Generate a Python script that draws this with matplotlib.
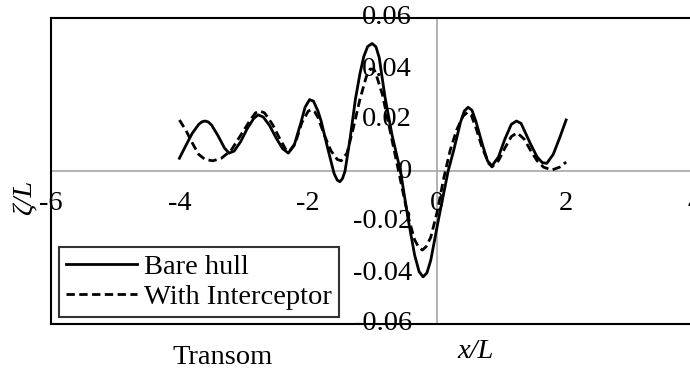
import matplotlib
matplotlib.use("Agg")
import matplotlib.pyplot as plt

plt.rcParams["font.family"] = ["Liberation Serif", "DejaVu Serif"]

# Wave profile along the hull, x/L vs zeta/L
x_bare = [-4.0, -3.9, -3.8, -3.7, -3.65, -3.6, -3.55, -3.5, -3.4, -3.3, -3.23, -3.15,
          -3.05, -2.95, -2.85, -2.78, -2.7, -2.6, -2.5, -2.4, -2.31, -2.22,
          -2.12, -2.05, -1.98, -1.92, -1.85, -1.8, -1.7, -1.6, -1.55, -1.51, -1.47, -1.43, -1.35,
          -1.27, -1.2, -1.14, -1.08, -1.01, -0.95, -0.9, -0.81, -0.7, -0.57, -0.45, -0.35,
          -0.28, -0.22, -0.16, -0.1, 0.02, 0.17, 0.26, 0.36, 0.42, 0.48, 0.54, 0.6, 0.7, 0.78,
          0.85, 0.95, 1.05, 1.15, 1.23, 1.3, 1.35, 1.45, 1.55, 1.63, 1.7,
          1.8, 1.9, 2.0]
z_bare = [0.005, 0.010, 0.0148, 0.0183, 0.0193, 0.0196, 0.0192, 0.018, 0.0138, 0.009, 0.007, 0.0078,
          0.0115, 0.0165, 0.0205, 0.022, 0.0212, 0.0178, 0.013, 0.0088, 0.007, 0.010,
          0.0185, 0.025, 0.028, 0.0274, 0.0235, 0.0195, 0.009, -0.001, -0.0036, -0.0042, -0.003, 0.0, 0.013,
          0.028, 0.038, 0.0448, 0.0488, 0.050, 0.0487, 0.0445, 0.029, 0.014, 0.0, -0.019, -0.033,
          -0.0395, -0.0415, -0.0400, -0.035, -0.019, 0.0, 0.0085, 0.019, 0.0235, 0.025, 0.0238, 0.0195, 0.0105, 0.004,
          0.002, 0.0055, 0.0125, 0.0183, 0.0196, 0.0187, 0.016, 0.0105, 0.0055, 0.0033, 0.003,
          0.0065, 0.013, 0.020]

x_int = [-4.0, -3.9, -3.8, -3.7, -3.6, -3.48, -3.35, -3.2, -3.1, -3.0,
         -2.9, -2.82, -2.75, -2.68, -2.6, -2.55, -2.45, -2.35, -2.3, -2.2, -2.1, -2.0,
         -1.95, -1.9, -1.85, -1.75, -1.65, -1.55, -1.49, -1.4, -1.3, -1.2, -1.1,
         -1.04, -0.98, -0.95, -0.85, -0.75, -0.65, -0.55, -0.45, -0.35, -0.29, -0.23, -0.17, -0.1,
         0.0, 0.1, 0.2, 0.3, 0.4, 0.47, 0.53, 0.6, 0.7, 0.8, 0.85,
         0.95, 1.05, 1.15, 1.24, 1.35, 1.45, 1.55, 1.65, 1.78, 1.9,
         2.0]
z_int = [0.020, 0.016, 0.011, 0.0065, 0.0045, 0.004, 0.005, 0.008, 0.012, 0.016,
         0.020, 0.0228, 0.0235, 0.0228, 0.0200, 0.018, 0.013, 0.0085, 0.0075, 0.011, 0.019, 0.0235,
         0.024, 0.0232, 0.021, 0.014, 0.008, 0.0045, 0.004, 0.007, 0.017, 0.028, 0.037,
         0.040, 0.0398, 0.038, 0.030, 0.018, 0.006, -0.006, -0.018, -0.027, -0.0298, -0.031, -0.0296, -0.026,
         -0.016, -0.003, 0.008, 0.016, 0.0215, 0.023, 0.0218, 0.017, 0.009, 0.003, 0.0016,
         0.004, 0.009, 0.0135, 0.015, 0.0125, 0.008, 0.004, 0.0015, 0.0004, 0.0015,
         0.0035]

xticks = [-6, -4, -2, 0, 2, 4]
yticks = [-0.06, -0.04, -0.02, 0, 0.02, 0.04, 0.06]
ytick_labels = ["-0.06", "-0.04", "-0.02", "0", "0.02", "0.04", "0.06"]

fig = plt.figure(figsize=(6.9, 3.76), dpi=100)
W, H = 690, 376
# plot box runs past the right edge of the figure
ax = fig.add_axes([50.5 / W, 1 - 324 / H, (695 - 50.5) / W, (324 - 18) / H])
ax.set_xlim(-6, 4)
ax.set_ylim(-0.06, 0.06)

for s in ["left", "top", "bottom", "right"]:
    ax.spines[s].set_linewidth(1.5)
    ax.spines[s].set_color("black")
ax.set_xticks([])
ax.set_yticks([])

# axes crossing at the origin
ax.axhline(0, color="#a6a6a6", lw=1.2, zorder=1)
ax.axvline(0, color="#a6a6a6", lw=1.2, zorder=1)

ax.plot(x_bare, z_bare, color="black", lw=2.0, label="Bare hull", zorder=3)
ax.plot(x_int, z_int, color="black", lw=2.0, ls=(0, (3, 1.6)),
        label="With Interceptor", zorder=3)

fs = 20.5
for xt in xticks:
    ax.text(xt, -0.0128, str(xt), ha="center", va="center", fontsize=fs,
            clip_on=False, zorder=4)
for yt, lab in zip(yticks, ytick_labels):
    ax.text(-0.39, yt, lab, ha="right", va="center", fontsize=fs, zorder=4)

fig.text(25 / W, 1 - 197 / H, "ζ/L", rotation=90, ha="center", va="center",
         fontsize=fs, style="italic")
fig.text(476 / W, 1 - 352 / H, "x/L", ha="center", va="center", fontsize=fs,
         style="italic")
fig.text(223 / W, 1 - 357 / H, "Transom", ha="center", va="center", fontsize=fs)

leg = ax.legend(loc="lower left", bbox_to_anchor=(59 / W, 1 - 317 / H),
                bbox_transform=fig.transFigure, fontsize=fs, frameon=True,
                fancybox=False, edgecolor="black", handlelength=2.5,
                handletextpad=0.25, borderpad=0.25, labelspacing=0.15,
                borderaxespad=0)
leg.get_frame().set_linewidth(1.5)
leg.set_zorder(5)

fig.savefig("out.png", dpi=100)
